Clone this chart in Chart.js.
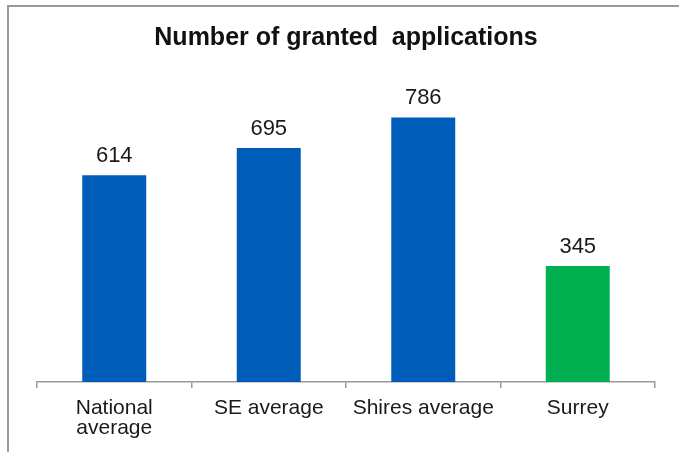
<!DOCTYPE html>
<html>
<head>
<meta charset="utf-8">
<script src="https://cdn.jsdelivr.net/npm/chart.js@4/dist/chart.umd.min.js"></script>
<style>
  html, body { margin: 0; padding: 0; background: #fff; }
  #wrap { width: 679px; height: 452px; }
</style>
</head>
<body>
<div id="wrap"><canvas id="myChart" width="679" height="452"></canvas></div>
<script>
const categories = [['National', 'average'], 'SE average', 'Shires average', 'Surrey'];
const granted = [614, 695, 786, 345];
const barColors = ['#005cb9', '#005cb9', '#005cb9', '#00b050'];
const titleText = 'Number of granted  applications';

const fontFamily = '"Liberation Sans", Arial, sans-serif';

// grey frame on the top and left edges, like the pasted picture
const framePlugin = {
  id: 'frame',
  beforeDraw(chart) {
    const c = chart.ctx;
    c.save();
    c.strokeStyle = '#9a9a9a';
    c.lineWidth = 2;
    c.beginPath();
    c.moveTo(8, chart.height);
    c.lineTo(8, 6);
    c.lineTo(chart.width, 6);
    c.stroke();
    c.restore();
  }
};

// value labels above each bar
const valuePlugin = {
  id: 'values',
  afterDatasetsDraw(chart) {
    const c = chart.ctx;
    const meta = chart.getDatasetMeta(0);
    c.save();
    c.font = '22px ' + fontFamily;
    c.fillStyle = '#1a1a1a';
    c.textAlign = 'center';
    c.textBaseline = 'alphabetic';
    meta.data.forEach((bar, i) => {
      c.fillText(granted[i], bar.x, bar.y - 13);
    });
    c.restore();
  }
};

const ctx = document.getElementById('myChart');
const myChart = new Chart(ctx, {
  type: 'bar',
  data: {
    labels: categories,
    datasets: [{
      data: granted,
      backgroundColor: barColors,
      borderWidth: 0,
      categoryPercentage: 1,
      barPercentage: 0.414
    }]
  },
  options: {
    responsive: false,
    animation: false,
    layout: { padding: { left: 37, right: 24, top: 0, bottom: 4 } },
    plugins: {
      legend: { display: false },
      tooltip: { enabled: false },
      title: {
        display: true,
        text: titleText,
        color: '#111',
        font: { family: fontFamily, size: 25, weight: 'bold', lineHeight: 1.2 },
        padding: { top: 23, bottom: 26 }
      }
    },
    scales: {
      x: {
        grid: {
          display: true,
          drawOnChartArea: false,
          drawTicks: true,
          tickLength: 6,
          color: '#999',
          lineWidth: 1.5
        },
        border: { display: true, color: '#999', width: 1.5 },
        ticks: {
          color: '#1a1a1a',
          padding: 10,
          maxRotation: 0,
          autoSkip: false,
          font: { family: fontFamily, size: 21, lineHeight: 0.95 }
        }
      },
      y: {
        display: false,
        min: 0,
        max: 900
      }
    }
  },
  plugins: [framePlugin, valuePlugin]
});
</script>
</body>
</html>
